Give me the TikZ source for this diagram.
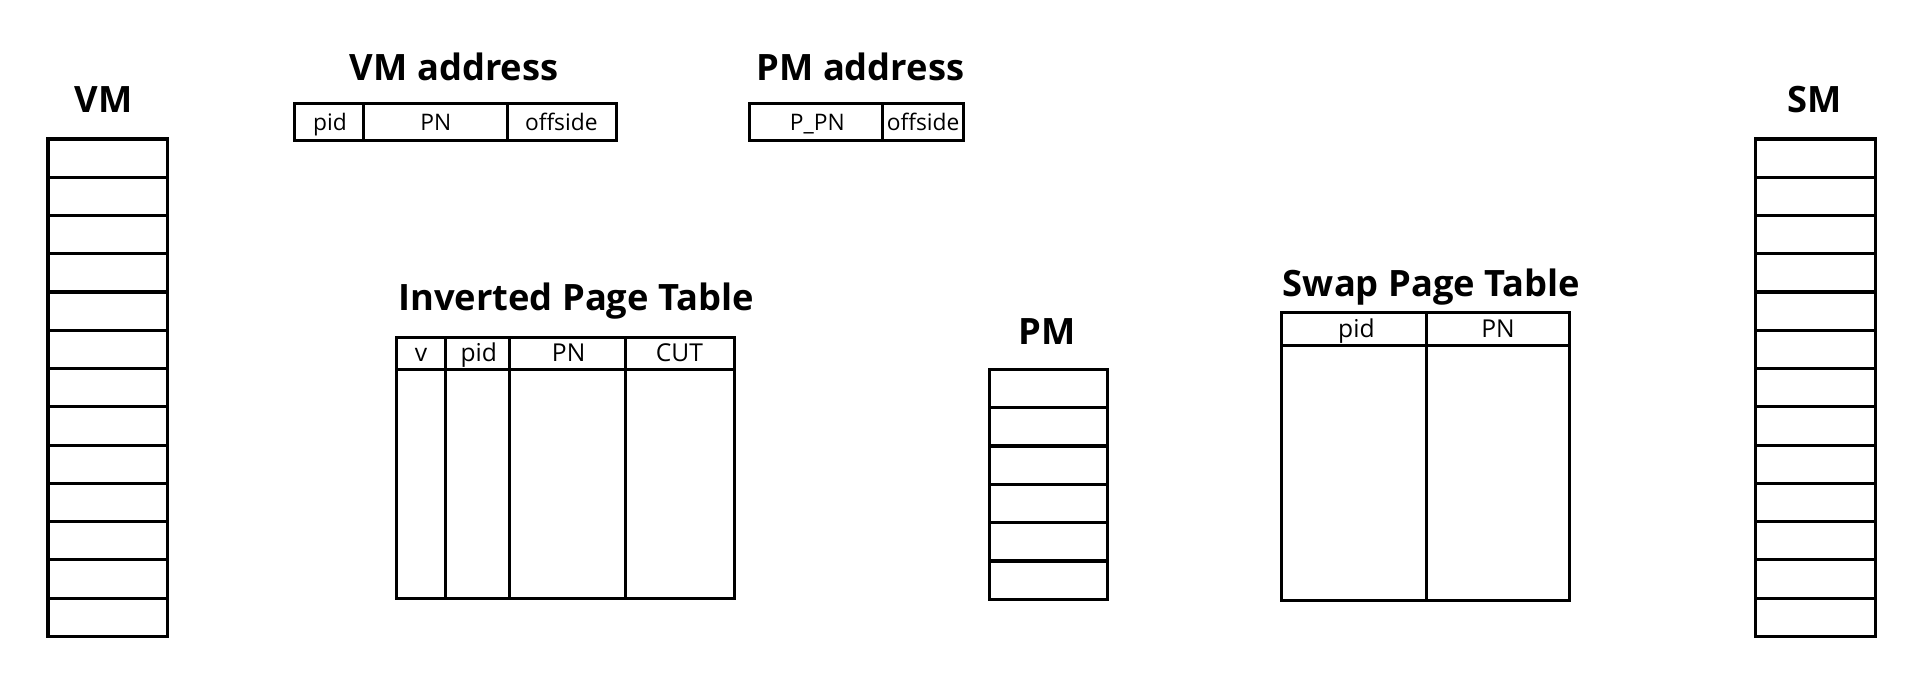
\documentclass[tikz,border=0pt]{standalone}
\usepackage{fontspec}
\setmainfont{Open Sans}
\begin{document}
\begin{tikzpicture}[x=1pt,y=-1pt,
  cellbox/.style={draw, line width=2.6pt, inner sep=0pt, outer sep=0pt, anchor=north west},
  titletext/.style={font=\fontsize{29.5}{31}\selectfont\bfseries, anchor=base, inner sep=0pt},
  celltext/.style={font=\fontsize{20}{21}\selectfont, anchor=base, inner sep=0pt},
  addrtext/.style={font=\fontsize{18.5}{19}\selectfont, anchor=base, inner sep=0pt}]
\useasboundingbox[fill=white] (0,0) rectangle (1568,559);

% ---------- VM column ----------
\node[titletext] (vmlabel) at (84,91) {VM};
\foreach \i in {0,...,12}
  \node[cellbox, minimum width=97pt, minimum height=31.08pt] (vm\i) at (39,{113+\i*31.077}) {};

% ---------- SM column ----------
\node[titletext] (smlabel) at (1474,91) {SM};
\foreach \i in {0,...,12}
  \node[cellbox, minimum width=98pt, minimum height=31.08pt] (sm\i) at (1426,{113+\i*31.077}) {};

% ---------- PM column ----------
\node[titletext] (pmlabel) at (851,280) {PM};
\foreach \i in {0,...,5}
  \node[cellbox, minimum width=96pt, minimum height=31.17pt] (pm\i) at (804,{300+\i*31.167}) {};

% ---------- VM address ----------
\node[titletext] (vmaddrtitle) at (369,65) {VM address};
\node[cellbox, minimum width=56pt, minimum height=30pt] (va1) at (239,84) {};
\node[cellbox, minimum width=117pt, minimum height=30pt] (va2) at (295,84) {};
\node[cellbox, minimum width=89pt, minimum height=30pt] (va3) at (412,84) {};
\node[addrtext] (va1t) at (268,106) {pid};
\node[addrtext] (va2t) at (354,106) {PN};
\node[addrtext] (va3t) at (456,106) {offside};

% ---------- PM address ----------
\node[titletext] (pmaddrtitle) at (699,65) {PM address};
\node[cellbox, minimum width=108pt, minimum height=30pt] (pa1) at (609,84) {};
\node[cellbox, minimum width=66pt, minimum height=30pt] (pa2) at (717,84) {};
\node[addrtext] (pa1t) at (664,106) {P\_PN};
\node[addrtext] (pa2t) at (750,106) {offside};

% ---------- Inverted Page Table ----------
\node[titletext] (ipttitle) at (468,252) {Inverted Page Table};
\node[cellbox, minimum width=40pt, minimum height=26pt] (ih1) at (322,274) {};
\node[cellbox, minimum width=52pt, minimum height=26pt] (ih2) at (362,274) {};
\node[cellbox, minimum width=94pt, minimum height=26pt] (ih3) at (414,274) {};
\node[cellbox, minimum width=89pt, minimum height=26pt] (ih4) at (508,274) {};
\node[cellbox, minimum width=40pt, minimum height=186pt] (ib1) at (322,300) {};
\node[cellbox, minimum width=52pt, minimum height=186pt] (ib2) at (362,300) {};
\node[cellbox, minimum width=94pt, minimum height=186pt] (ib3) at (414,300) {};
\node[cellbox, minimum width=89pt, minimum height=186pt] (ib4) at (508,300) {};
\node[celltext] (ih1t) at (342,294) {v};
\node[celltext] (ih2t) at (389,294) {pid};
\node[celltext] (ih3t) at (462,294) {PN};
\node[celltext] (ih4t) at (552,294) {CUT};

% ---------- Swap Page Table ----------
\node[titletext] (swaptitle) at (1163,241) {Swap Page Table};
\node[cellbox, minimum width=118pt, minimum height=27pt] (sh1) at (1041,254) {};
\node[cellbox, minimum width=116pt, minimum height=27pt] (sh2) at (1159,254) {};
\node[cellbox, minimum width=118pt, minimum height=207pt] (sb1) at (1041,281) {};
\node[cellbox, minimum width=116pt, minimum height=207pt] (sb2) at (1159,281) {};
\node[celltext] (sh1t) at (1102,274) {pid};
\node[celltext] (sh2t) at (1217,274) {PN};
\end{tikzpicture}
\end{document}
